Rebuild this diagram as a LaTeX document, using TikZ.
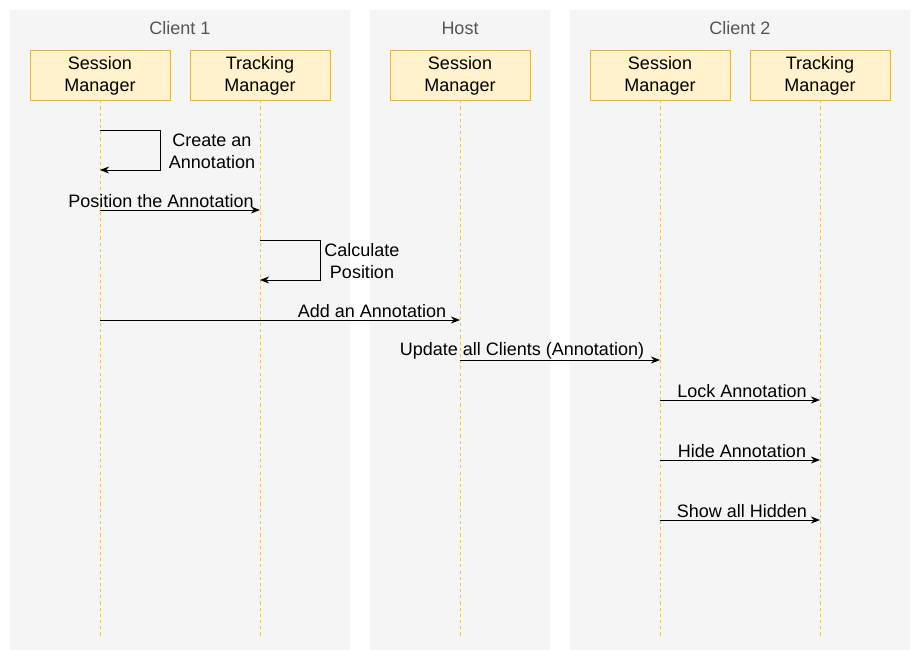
\documentclass[tikz,border=0pt]{standalone}
\usepackage{fontspec}
\setmainfont{Liberation Sans}
\usetikzlibrary{positioning,arrows.meta,calc}
\definecolor{lanebg}{HTML}{F5F5F5}
\definecolor{boxfill}{HTML}{FFF2CC}
\definecolor{boxline}{HTML}{D6B656}
\definecolor{titlegray}{HTML}{555555}

\begin{document}
\begin{tikzpicture}[x=0.025cm,y=-0.025cm,
    actor/.style={draw=boxline,fill=boxfill,minimum width=3.5cm,minimum height=1.25cm,
      align=center,inner sep=0pt,text depth=1pt},
    lane/.style={fill=lanebg},
    lifeline/.style={draw=boxline!85,dash pattern=on 2.2pt off 2.2pt,line width=0.5pt},
    msg/.style={-{Stealth[length=6.5pt,width=5pt]},line width=0.6pt},
    lbl/.style={align=center,inner sep=0pt},
    every node/.style={font=\fontsize{12.8}{15.6}\selectfont}]
  \useasboundingbox (0,0) rectangle (920,660);
  % swimlanes
  \fill[lane] (10,10) rectangle (350,650);
  \fill[lane] (370,10) rectangle (550,650);
  \fill[lane] (570,10) rectangle (910,650);
  \node[text=titlegray] (t1) at (180,28) {Client 1};
  \node[text=titlegray] (t2) at (460,28) {Host};
  \node[text=titlegray] (t3) at (740,28) {Client 2};
  % actors
  \node[actor] (sm1) at (100,75) {Session\\Manager};
  \node[actor] (tm1) at (260,75) {Tracking\\Manager};
  \node[actor] (smh) at (460,75) {Session\\Manager};
  \node[actor] (sm2) at (660,75) {Session\\Manager};
  \node[actor] (tm2) at (820,75) {Tracking\\Manager};
  % lifeline ends
  \coordinate (sm1e) at (100,637);
  \coordinate (tm1e) at (260,637);
  \coordinate (smhe) at (460,637);
  \coordinate (sm2e) at (660,637);
  \coordinate (tm2e) at (820,637);
  \foreach \a in {sm1,tm1,smh,sm2,tm2}
    \draw[lifeline] (\a.south) -- (\a e);
  % message points
  \coordinate (c1a) at (100,130);
  \coordinate (c1b) at (160,130);
  \coordinate (c1c) at (160,170);
  \coordinate (c1d) at (100,170);
  \coordinate (p1) at (100,210);
  \coordinate (p2) at (260,210);
  \coordinate (c2a) at (260,240);
  \coordinate (c2b) at (320,240);
  \coordinate (c2c) at (320,280);
  \coordinate (c2d) at (260,280);
  \coordinate (a1) at (100,320);
  \coordinate (a2) at (460,320);
  \coordinate (u1) at (460,360);
  \coordinate (u2) at (660,360);
  \coordinate (l1) at (660,400);
  \coordinate (l2) at (820,400);
  \coordinate (h1) at (660,460);
  \coordinate (h2) at (820,460);
  \coordinate (s1) at (660,520);
  \coordinate (s2) at (820,520);
  % messages
  \draw[msg] (c1a) -- (c1b) -- (c1c) -- (c1d);
  \node[lbl] (m1) at (212,151) {Create an\\Annotation};
  \draw[msg] (p1) -- (p2);
  \node[lbl] (m2) at (161,201) {Position the Annotation};
  \draw[msg] (c2a) -- (c2b) -- (c2c) -- (c2d);
  \node[lbl] (m3) at (362,261) {Calculate\\Position};
  \draw[msg] (a1) -- (a2);
  \node[lbl] (m4) at (372,311) {Add an Annotation};
  \draw[msg] (u1) -- (u2);
  \node[lbl] (m5) at (522,351) {Update all Clients (Annotation)};
  \draw[msg] (l1) -- (l2);
  \node[lbl] (m6) at (742,391) {Lock Annotation};
  \draw[msg] (h1) -- (h2);
  \node[lbl] (m7) at (742,451) {Hide Annotation};
  \draw[msg] (s1) -- (s2);
  \node[lbl] (m8) at (742,511) {Show all Hidden};
\end{tikzpicture}
\end{document}
